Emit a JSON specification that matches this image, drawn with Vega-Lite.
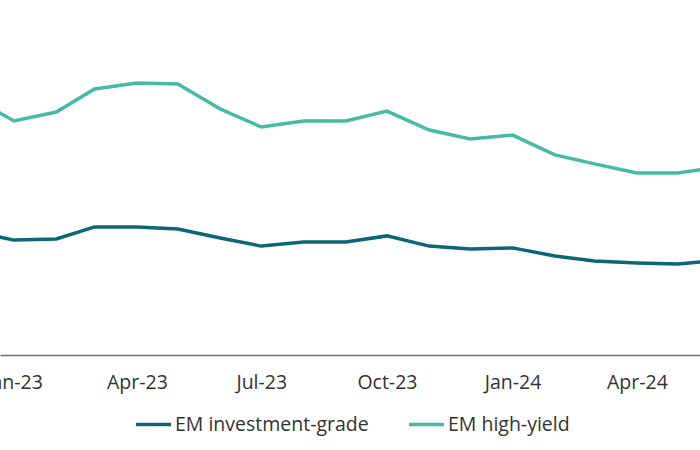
{
  "$schema": "https://vega.github.io/schema/vega-lite/v6.json",
  "width": 700,
  "height": 355,
  "padding": {"left": 0, "top": 0, "right": 0, "bottom": 95},
  "autosize": {"type": "none"},
  "background": "white",
  "config": {
    "view": {"stroke": null},
    "font": "Open Sans"
  },
  "data": {
    "values": [
      {"date": "2022-12-01", "series": "EM investment-grade", "value": 4.13},
      {"date": "2023-01-01", "series": "EM investment-grade", "value": 3.83},
      {"date": "2023-02-01", "series": "EM investment-grade", "value": 3.87},
      {"date": "2023-03-01", "series": "EM investment-grade", "value": 4.27},
      {"date": "2023-04-01", "series": "EM investment-grade", "value": 4.27},
      {"date": "2023-05-01", "series": "EM investment-grade", "value": 4.20},
      {"date": "2023-06-01", "series": "EM investment-grade", "value": 3.90},
      {"date": "2023-07-01", "series": "EM investment-grade", "value": 3.63},
      {"date": "2023-08-01", "series": "EM investment-grade", "value": 3.77},
      {"date": "2023-09-01", "series": "EM investment-grade", "value": 3.77},
      {"date": "2023-10-01", "series": "EM investment-grade", "value": 3.97},
      {"date": "2023-11-01", "series": "EM investment-grade", "value": 3.63},
      {"date": "2023-12-01", "series": "EM investment-grade", "value": 3.53},
      {"date": "2024-01-01", "series": "EM investment-grade", "value": 3.57},
      {"date": "2024-02-01", "series": "EM investment-grade", "value": 3.30},
      {"date": "2024-03-01", "series": "EM investment-grade", "value": 3.13},
      {"date": "2024-04-01", "series": "EM investment-grade", "value": 3.07},
      {"date": "2024-05-01", "series": "EM investment-grade", "value": 3.03},
      {"date": "2024-06-01", "series": "EM investment-grade", "value": 3.17},
      {"date": "2022-12-01", "series": "EM high-yield", "value": 8.60},
      {"date": "2023-01-01", "series": "EM high-yield", "value": 7.80},
      {"date": "2023-02-01", "series": "EM high-yield", "value": 8.10},
      {"date": "2023-03-01", "series": "EM high-yield", "value": 8.87},
      {"date": "2023-04-01", "series": "EM high-yield", "value": 9.07},
      {"date": "2023-05-01", "series": "EM high-yield", "value": 9.03},
      {"date": "2023-06-01", "series": "EM high-yield", "value": 8.20},
      {"date": "2023-07-01", "series": "EM high-yield", "value": 7.60},
      {"date": "2023-08-01", "series": "EM high-yield", "value": 7.80},
      {"date": "2023-09-01", "series": "EM high-yield", "value": 7.80},
      {"date": "2023-10-01", "series": "EM high-yield", "value": 8.13},
      {"date": "2023-11-01", "series": "EM high-yield", "value": 7.50},
      {"date": "2023-12-01", "series": "EM high-yield", "value": 7.20},
      {"date": "2024-01-01", "series": "EM high-yield", "value": 7.33},
      {"date": "2024-02-01", "series": "EM high-yield", "value": 6.67},
      {"date": "2024-03-01", "series": "EM high-yield", "value": 6.37},
      {"date": "2024-04-01", "series": "EM high-yield", "value": 6.07},
      {"date": "2024-05-01", "series": "EM high-yield", "value": 6.07},
      {"date": "2024-06-01", "series": "EM high-yield", "value": 6.27}
    ]
  },
  "mark": {"type": "line", "clip": true, "strokeWidth": 3.5},
  "encoding": {
    "x": {
      "field": "date",
      "type": "temporal",
      "scale": {"type": "utc", "domain": ["2022-12-21T18:00:00Z", "2024-05-17T05:00:00Z"]},
      "axis": {
        "title": null,
        "values": ["2023-01-01", "2023-04-01", "2023-07-01", "2023-10-01", "2024-01-01", "2024-04-01"],
        "labelExpr": "utcFormat(datum.value, '%b-%y')",
        "ticks": false,
        "grid": false,
        "domainColor": "#6e6e6e",
        "domainWidth": 1.6,
        "labelFontSize": 19.5,
        "labelColor": "#333333",
        "labelPadding": 18,
        "labelFlush": false,
        "labelOverlap": false
      }
    },
    "y": {
      "field": "value",
      "type": "quantitative",
      "scale": {"domain": [0, 11.8333], "nice": false, "zero": false},
      "axis": null
    },
    "color": {
      "field": "series",
      "type": "nominal",
      "scale": {"domain": ["EM investment-grade", "EM high-yield"], "range": ["#0b6675", "#45bba7"]},
      "legend": {
        "title": null,
        "orient": "none",
        "direction": "horizontal",
        "legendX": 134,
        "legendY": 405,
        "symbolType": "stroke",
        "symbolSize": 1225,
        "symbolStrokeWidth": 3.5,
        "labelFontSize": 19.5,
        "labelLimit": 0,
        "labelColor": "#333333",
        "labelOffset": 2,
        "columnPadding": 33
      }
    }
  }
}
